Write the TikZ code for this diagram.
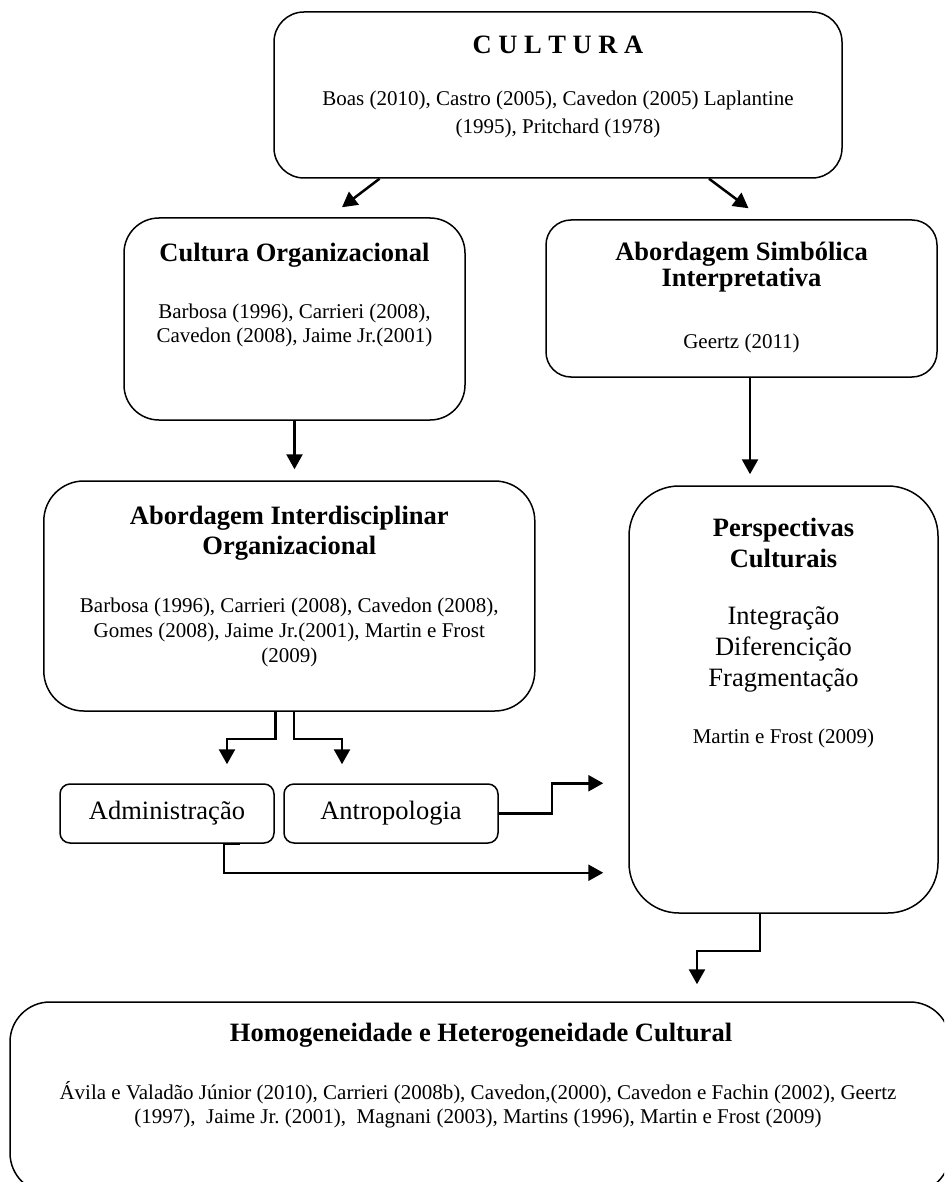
\documentclass[tikz,border=0pt]{standalone}
\usepackage{fontspec}
\setmainfont{Liberation Serif}
\usetikzlibrary{arrows.meta}
\frenchspacing
\newcommand{\citesize}{\fontsize{21}{24.5}\selectfont}
\newcommand{\headsize}{\fontsize{26.5}{30}\selectfont\bfseries}
\newcommand{\bigsize}{\fontsize{26.5}{31}\selectfont}

\begin{document}
\begin{tikzpicture}[x=1pt, y=-1pt,
	box/.style={draw, line width=1.5pt, rounded corners=#1, inner sep=0pt},
	head/.style={font=\headsize, align=center, inner sep=0pt},
	cite/.style={font=\citesize, align=center, inner sep=0pt},
	big/.style={font=\bigsize, align=center, inner sep=0pt},
	arr/.style={line width=2.5pt, -{Triangle[length=15pt,width=16pt]}}]
		\useasboundingbox (0,0) rectangle (944,1182);
		\clip (0,0) rectangle (944,1182);

		% Boxes
		\node[box=30pt, minimum width=568pt, minimum height=166pt] (cultura) at (558,95) {};
		\node[box=35pt, minimum width=341pt, minimum height=202pt] (culorg) at (294.5,319) {};
		\node[box=25pt, minimum width=391pt, minimum height=157pt] (simb) at (741.5,298.5) {};
		\node[box=40pt, minimum width=491pt, minimum height=230pt] (inter) at (289.3,596) {};
		\node[box=10pt, minimum width=214pt, minimum height=59pt] (admin) at (167,813.5) {};
		\node[box=10pt, minimum width=214pt, minimum height=59pt] (antrop) at (391,813.5) {};
		\node[box=50pt, minimum width=309pt, minimum height=427pt] (persp) at (783.5,699.5) {};
		\node[box=40pt, minimum width=940pt, minimum height=191pt] (homog) at (480,1097.5) {};

		% Texts
		\node[head] (cultitle) at (558,45) {C U L T U R A};
		\node[cite, font=\fontsize{21}{28}\selectfont] (culcite) at (558,114)
			{Boas (2010), Castro (2005), Cavedon (2005) Laplantine\\(1995), Pritchard (1978)};
		\node[head] (orgtitle) at (294.5,255) {Cultura Organizacional};
		\node[cite, font=\fontsize{21}{24}\selectfont] (orgcite) at (294.5,325)
			{Barbosa (1996), Carrieri (2008),\\Cavedon (2008), Jaime Jr.(2001)};
		\node[head, font=\fontsize{26.5}{26}\selectfont\bfseries] (simtitle) at (741.5,267)
			{Abordagem Simbólica\\Interpretativa};
		\node[cite] (simcite) at (741.5,343) {Geertz (2011)};
		\node[head] (intertitle) at (289.3,533) {Abordagem Interdisciplinar\\Organizacional};
		\node[cite, font=\fontsize{21}{25}\selectfont] (intercite) at (289.3,632)
			{Barbosa (1996), Carrieri (2008), Cavedon (2008),\\Gomes (2008), Jaime Jr.(2001), Martin e Frost\\(2009)};
		\node[big] (admintxt) at (167,813) {Administração};
		\node[big] (antroptxt) at (391,813) {Antropologia};
		\node[head, font=\fontsize{26.5}{31}\selectfont\bfseries] (persptitle) at (783.5,542.5) {Perspectivas\\Culturais};
		\node[big] (perspitems) at (783.5,649) {Integração\\Diferencição\\Fragmentação};
		\node[cite] (perspcite) at (783.5,738) {Martin e Frost (2009)};
		\node[head] (homogtitle) at (481,1035) {Homogeneidade e Heterogeneidade Cultural};
		\node[cite, font=\fontsize{21}{24}\selectfont] (homogcite) at (478,1105)
			{Ávila e Valadão Júnior (2010), Carrieri (2008b), Cavedon,(2000), Cavedon e Fachin (2002), Geertz\\(1997),\ \ Jaime Jr. (2001),\ \ Magnani (2003), Martins (1996), Martin e Frost (2009)};

		% Arrows
		\draw[arr] ([xshift=-178.5pt]cultura.south) -- ([xshift=47.5pt,yshift=10pt]culorg.north);
		\draw[arr] ([xshift=151pt]cultura.south) -- ([xshift=7pt,yshift=11pt]simb.north);
		\draw[arr, shorten >=11pt] (culorg.south) -- (culorg.south |- inter.north);
		\draw[arr, shorten >=11pt] ([xshift=8.5pt]simb.south) -- ([xshift=8.5pt]simb.south |- persp.north);
		\draw[arr] ([xshift=-14pt]inter.south) -- ++(0,27) -| ([xshift=60pt,yshift=19pt]admin.north);
		\draw[arr] ([xshift=4.6pt]inter.south) -- ++(0,27) -| ([xshift=-49pt,yshift=19pt]antrop.north);
		\draw[arr, shorten >=25pt] (antrop.east) -- ++(53,0) |- (persp.west |- antrop.north);
		\draw[arr] ([xshift=73pt]admin.south) -- ([xshift=57pt]admin.south)
			|- ([xshift=-25pt,yshift=-29pt]persp.west |- admin.south);
		\draw[arr] ([xshift=-23.5pt]persp.south) -- ++(0,37) -| ([xshift=217pt,yshift=17pt]homog.north);
	\end{tikzpicture}
\end{document}
